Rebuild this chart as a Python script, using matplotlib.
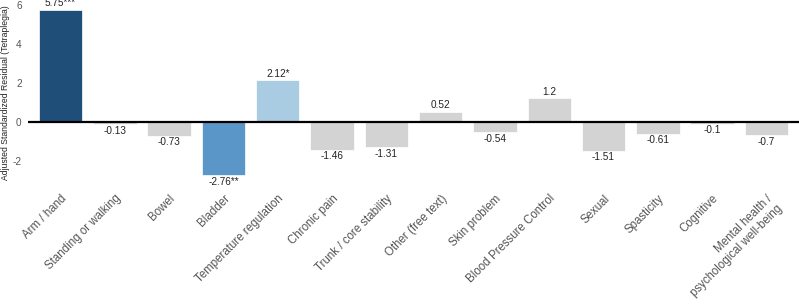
import matplotlib
matplotlib.use("Agg")
import matplotlib.pyplot as plt

categories = ["Arm / hand", "Standing or walking", "Bowel", "Bladder",
              "Temperature regulation", "Chronic pain", "Trunk / core stability",
              "Other (free text)", "Skin problem", "Blood Pressure Control",
              "Sexual", "Spasticity", "Cognitive",
              "Mental health /\npsychological well-being"]
values = [5.75, -0.13, -0.73, -2.76, 2.12, -1.46, -1.31, 0.52, -0.54, 1.2,
          -1.51, -0.61, -0.1, -0.7]
labels = ["5.75***", "-0.13", "-0.73", "-2.76**", "2.12*", "-1.46", "-1.31",
          "0.52", "-0.54", "1.2", "-1.51", "-0.61", "-0.1", "-0.7"]
colors = ["#1f4e79", "#d3d3d3", "#d3d3d3", "#5b96c8", "#a9cce3", "#d3d3d3",
          "#d3d3d3", "#d3d3d3", "#d3d3d3", "#d3d3d3", "#d3d3d3", "#d3d3d3",
          "#d3d3d3", "#d3d3d3"]
yticks = [-2, 0, 2, 4, 6]

plt.rcParams['font.family'] = ['Liberation Sans', 'DejaVu Sans']

fig = plt.figure(figsize=(7.99, 3.05), dpi=100)
ax = fig.add_axes([28/799, 1-180/305, 1-28/799, (180-5)/305])

x = list(range(len(categories)))
bars = ax.bar(x, values, width=0.8, color=colors, edgecolor='white', linewidth=0.5)
ax.axhline(0, color='black', linewidth=1.6, zorder=3)

for xi, v, lab in zip(x, values, labels):
    if v >= 0:
        ax.annotate(lab, (xi, v), xytext=(0, 1), textcoords='offset points',
                    ha='center', va='bottom', fontsize=7.2, color='#222222')
    else:
        ax.annotate(lab, (xi, v), xytext=(0, -1), textcoords='offset points',
                    ha='center', va='top', fontsize=7.2, color='#222222')

ax.set_xlim(-0.6, 13.6)
ax.set_ylim(-3.0, 6.0)
ax.set_yticks(yticks)
ax.set_yticklabels([str(t) for t in yticks], fontsize=7.2, color='#555555')
ax.set_xticks(x)
ax.set_xticklabels(categories, rotation=45, ha='right', rotation_mode='anchor',
                   fontsize=8.3, color='#555555')
ax.tick_params(axis='both', length=0)
ax.tick_params(axis='x', pad=9)
ax.tick_params(axis='y', pad=4.5)
ax.set_ylabel("Adjusted Standardized Residual (Tetraplegia)", fontsize=6.2,
              color='#222222', va='top')
ax.yaxis.set_label_coords(-0.035, 0.5)
for s in ax.spines.values():
    s.set_visible(False)

fig.savefig("out.png", dpi=100)
